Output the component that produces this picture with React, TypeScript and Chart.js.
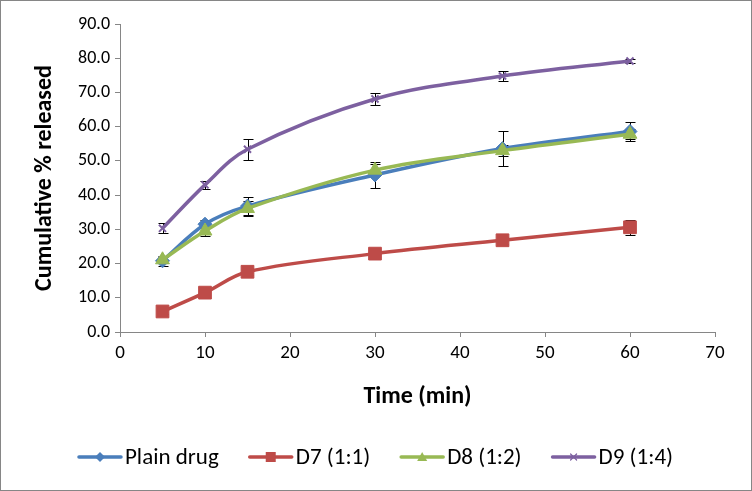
import React, { useEffect, useRef } from "react";
import { Chart, registerables } from "chart.js";

Chart.register(...registerables);

const times = [5, 10, 15, 30, 45, 60];
const seriesLabels = ["Plain drug", "D7 (1:1)", "D8 (1:2)", "D9 (1:4)"];
const plainDrug = [20.8, 31.5, 36.8, 45.9, 53.6, 58.6];
const plainDrugSD = [1.5, 1.2, 2.6, 3.7, 5.2, 2.9];
const d7 = [6.0, 11.5, 17.6, 22.9, 26.8, 30.6];
const d7SD = [0.6, 0.8, 1.0, 0.9, 1.0, 2.2];
const d8 = [21.1, 29.5, 36.1, 47.3, 53.0, 57.8];
const d8SD = [0.8, 1.5, 2.3, 1.8, 1.7, 1.5];
const d9 = [30.3, 43.0, 53.4, 68.1, 74.8, 79.2];
const d9SD = [1.5, 1.1, 3.1, 1.7, 1.4, 0.5];
const yTicks = [0, 10, 20, 30, 40, 50, 60, 70, 80, 90];
const xTicks = [0, 10, 20, 30, 40, 50, 60, 70];

const colors = ["#4A7EBB", "#BE4B48", "#98B954", "#7D60A0"];
const pointStyles = ["rectRot", "rect", "triangle", "crossRot"];
const FONT = "Carlito, Lato, 'Liberation Sans', sans-serif";

function drawMarker(ctx: CanvasRenderingContext2D, style: string, x: number, y: number, r: number, color: string) {
  ctx.save();
  ctx.fillStyle = color;
  ctx.strokeStyle = color;
  ctx.beginPath();
  if (style === "rectRot") {
    ctx.moveTo(x, y - r);
    ctx.lineTo(x + r, y);
    ctx.lineTo(x, y + r);
    ctx.lineTo(x - r, y);
    ctx.closePath();
    ctx.fill();
  } else if (style === "rect") {
    ctx.rect(x - r, y - r, 2 * r, 2 * r);
    ctx.fill();
  } else if (style === "triangle") {
    ctx.moveTo(x, y - r);
    ctx.lineTo(x + r, y + r * 0.8);
    ctx.lineTo(x - r, y + r * 0.8);
    ctx.closePath();
    ctx.fill();
  } else {
    ctx.lineWidth = 1.2;
    ctx.moveTo(x - r, y - r);
    ctx.lineTo(x + r, y + r);
    ctx.moveTo(x + r, y - r);
    ctx.lineTo(x - r, y + r);
    ctx.stroke();
  }
  ctx.restore();
}

const framePlugin = {
  id: "frame",
  beforeDraw(chart: any) {
    const { ctx, width, height } = chart;
    ctx.save();
    ctx.fillStyle = "#ffffff";
    ctx.fillRect(0, 0, width, height);
    ctx.strokeStyle = "#868686";
    ctx.lineWidth = 1;
    ctx.strokeRect(0.5, 0.5, width - 1, height - 1);
    ctx.restore();
  },
};

const errorBarPlugin = {
  id: "errorBars",
  beforeDatasetsDraw(chart: any) {
    const ctx = chart.ctx as CanvasRenderingContext2D;
    const yScale = chart.scales.y;
    ctx.save();
    ctx.strokeStyle = "#000000";
    ctx.lineWidth = 1;
    chart.data.datasets.forEach((ds: any, i: number) => {
      const meta = chart.getDatasetMeta(i);
      const errs: number[] = ds.errors || [];
      meta.data.forEach((pt: any, j: number) => {
        const d = ds.data[j];
        const v = typeof d === "number" ? d : d.y;
        const e = errs[j];
        if (e == null) return;
        const x = Math.round(pt.x) + 0.5;
        const yt = Math.round(yScale.getPixelForValue(v + e)) + 0.5;
        const yb = Math.round(yScale.getPixelForValue(v - e)) + 0.5;
        ctx.beginPath();
        ctx.moveTo(x, yt);
        ctx.lineTo(x, yb);
        ctx.moveTo(x - 5, yt);
        ctx.lineTo(x + 5, yt);
        ctx.moveTo(x - 5, yb);
        ctx.lineTo(x + 5, yb);
        ctx.stroke();
      });
    });
    ctx.restore();
  },
};

const legendPlugin = {
  id: "customLegend",
  afterDraw(chart: any) {
    const ctx = chart.ctx as CanvasRenderingContext2D;
    const y = 457;
    const lineLen = 42;
    const gapText = 4;
    const gapItem = 31;
    ctx.save();
    ctx.font = `23px ${FONT}`;
    ctx.textBaseline = "middle";
    const items = chart.data.datasets.map((ds: any) => ({
      label: ds.label as string,
      w: lineLen + gapText + ctx.measureText(ds.label).width,
    }));
    const total = items.reduce((s: number, it: any) => s + it.w, 0) + gapItem * (items.length - 1);
    let x = chart.width / 2 - total / 2;
    items.forEach((it: any, i: number) => {
      ctx.strokeStyle = colors[i];
      ctx.lineWidth = 3.5;
      ctx.lineCap = "round";
      ctx.beginPath();
      ctx.moveTo(x, y);
      ctx.lineTo(x + lineLen, y);
      ctx.stroke();
      drawMarker(ctx, pointStyles[i], x + lineLen / 2, y, i === 3 ? 3 : 5, colors[i]);
      ctx.fillStyle = "#000000";
      ctx.fillText(it.label, x + lineLen + gapText, y + 1);
      x += it.w + gapItem;
    });
    ctx.restore();
  },
};

export default function App() {
  const ref = useRef<HTMLCanvasElement | null>(null);

  useEffect(() => {
    if (!ref.current) return;
    const values = [plainDrug, d7, d8, d9];
    const errors = [plainDrugSD, d7SD, d8SD, d9SD];
    const radii = [7, 9, 8, 5];
    const chart = new Chart(ref.current, {
      type: "line",
      data: {
        datasets: values.map((vals, i) => ({
          label: seriesLabels[i],
          data: vals.map((v, j) => ({ x: times[j], y: v })),
          errors: errors[i].slice(),
          borderColor: colors[i],
          backgroundColor: colors[i],
          borderWidth: 3.5,
          pointStyle: pointStyles[i] as any,
          pointRadius: radii[i],
          pointBorderWidth: i === 3 ? 2 : 1,
          pointBackgroundColor: colors[i],
          pointBorderColor: colors[i],
          tension: 0.35,
          fill: false,
          order: 4 - i,
        })) as any,
      },
      options: {
        animation: false,
        responsive: false,
        devicePixelRatio: 1,
        parsing: false as any,
        layout: { padding: { left: 22, right: 37, top: 24, bottom: 79 } },
        plugins: {
          legend: { display: false },
          tooltip: { enabled: false },
        },
        scales: {
          x: {
            type: "linear",
            min: 0,
            max: 70,
            afterBuildTicks: (s: any) => {
              s.ticks = xTicks.map((v) => ({ value: v }));
            },
            afterFit: (s: any) => {
              s.height = 80;
            },
            grid: { drawOnChartArea: false, drawTicks: true, tickLength: 5, color: "#868686" },
            border: { color: "#868686", width: 1 },
            ticks: { color: "#000", font: { family: FONT, size: 19 }, padding: 5, maxRotation: 0 },
            title: {
              display: true,
              text: "Time (min)",
              color: "#000",
              font: { family: FONT, size: 24, weight: "bold" },
              padding: { top: 0, bottom: 1 },
            },
          },
          y: {
            type: "linear",
            min: 0,
            max: 90,
            afterBuildTicks: (s: any) => {
              s.ticks = yTicks.map((v) => ({ value: v }));
            },
            afterFit: (s: any) => {
              s.width = 120 - 22;
            },
            grid: { drawOnChartArea: false, drawTicks: true, tickLength: 5, color: "#868686" },
            border: { color: "#868686", width: 1 },
            ticks: {
              color: "#000",
              font: { family: FONT, size: 18 },
              padding: 5,
              callback: (v: any) => Number(v).toFixed(1),
            },
            title: {
              display: true,
              text: "Cumulative % released",
              color: "#000",
              font: { family: FONT, size: 24, weight: "bold" },
              padding: { top: 9, bottom: 0 },
            },
          },
        },
      },
      plugins: [framePlugin, errorBarPlugin, legendPlugin],
    });
    return () => chart.destroy();
  }, []);

  return (
    <div style={{ position: "absolute", left: 0, top: 0, width: 752, height: 491 }}>
      <canvas ref={ref} width={752} height={491} style={{ width: 752, height: 491, display: "block" }} />
    </div>
  );
}
